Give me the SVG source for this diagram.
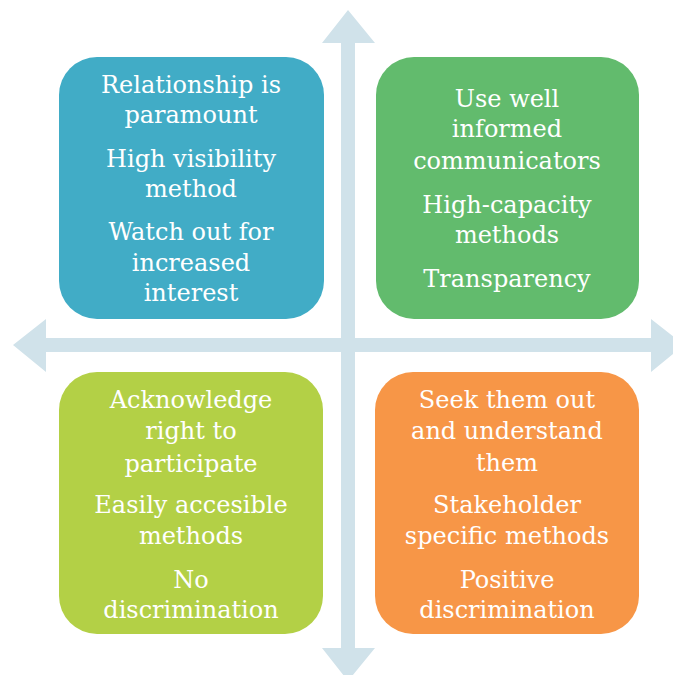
<svg xmlns="http://www.w3.org/2000/svg" width="673" height="675" viewBox="0 0 673 675">
<style>
.t{font-family:"DejaVu Serif","Liberation Serif",serif;font-size:24px;fill:#fff;text-anchor:middle}
.ar{fill:#D0E2EA}
</style>
<rect width="673" height="675" fill="#fff"/>
<g id="connectors">
<polygon class="ar" points="348,10 375,43 355,43 355,338 651,338 651,319 684,345 651,372 651,352 355,352 355,648 375,648 348,681 322,648 341,648 341,352 46,352 46,372 13,345 46,319 46,338 341,338 341,43 322,43"/>
</g>
<g id="q1"><rect x="59" y="57" width="265" height="262" rx="38" fill="#41ACC6"/>
<text class="t"><tspan x="191" y="93">Relationship is</tspan><tspan x="191" y="123">paramount</tspan><tspan x="191" y="167">High visibility</tspan><tspan x="191" y="197">method</tspan><tspan x="191" y="240">Watch out for</tspan><tspan x="191" y="271">increased</tspan><tspan x="191" y="301">interest</tspan></text></g>
<g id="q2"><rect x="376" y="57" width="263" height="262" rx="38" fill="#62BB6D"/>
<text class="t"><tspan x="507" y="107">Use well</tspan><tspan x="507" y="137">informed</tspan><tspan x="507" y="169">communicators</tspan><tspan x="507" y="213">High-capacity</tspan><tspan x="507" y="243">methods</tspan><tspan x="507" y="287">Transparency</tspan></text></g>
<g id="q3"><rect x="59" y="372" width="264" height="262" rx="38" fill="#B3D046"/>
<text class="t"><tspan x="191" y="408">Acknowledge</tspan><tspan x="191" y="439">right to</tspan><tspan x="191" y="472">participate</tspan><tspan x="191" y="513">Easily accesible</tspan><tspan x="191" y="544">methods</tspan><tspan x="191" y="588">No</tspan><tspan x="191" y="618">discrimination</tspan></text></g>
<g id="q4"><rect x="375" y="372" width="264" height="262" rx="38" fill="#F79647"/>
<text class="t"><tspan x="507" y="408">Seek them out</tspan><tspan x="507" y="439">and understand</tspan><tspan x="507" y="471">them</tspan><tspan x="507" y="513">Stakeholder</tspan><tspan x="507" y="544">specific methods</tspan><tspan x="507" y="588">Positive</tspan><tspan x="507" y="618">discrimination</tspan></text></g>
</svg>
